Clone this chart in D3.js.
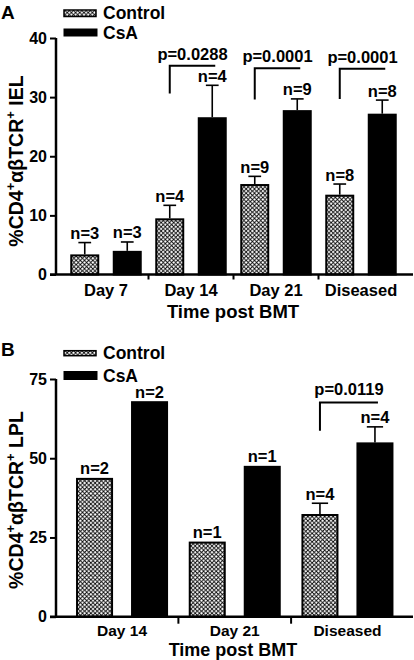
<!DOCTYPE html>
<html><head><meta charset="utf-8">
<script src="https://cdn.jsdelivr.net/npm/d3@7"></script>
<style>
html,body{margin:0;padding:0;background:#fff;}
svg{display:block;}
text{font-family:"Liberation Sans",Arial,sans-serif;font-weight:bold;fill:#000;}
</style></head>
<body>
<svg id="chart" width="414" height="660"></svg>
<script>
// ---------- Data ----------
const groups = ["Control", "CsA"];

const catsA = ["Day 7", "Day 14", "Day 21", "Diseased"];
const ctrlA = [3.4, 9.5, 15.3, 13.5];
const ctrlErrA = [2.0, 2.2, 1.3, 1.8];
const csaA = [4.0, 26.6, 27.8, 27.2];
const csaErrA = [1.5, 5.4, 1.9, 2.3];
const nCtrlA = [3, 4, 9, 8];
const nCsaA = [3, 4, 9, 8];
const pA = [null, "p=0.0288", "p=0.0001", "p=0.0001"];
const bracketTopA = [null, 35.3, 34.9, 34.8];
const bracketBotA = [null, 30.6, 29.6, 29.7];
const ticksA = [0, 10, 20, 30, 40];

const catsB = ["Day 14", "Day 21", "Diseased"];
const ctrlB = [43.8, 23.7, 32.4];
const ctrlErrB = [0, 0, 3.4];
const csaB = [68.0, 47.6, 55.0];
const csaErrB = [0, 0, 4.9];
const nCtrlB = [2, 1, 4];
const nCsaB = [2, 1, 4];
const pB = [null, null, "p=0.0119"];
const bracketTopB = [null, null, 67.6];
const bracketBotB = [null, null, 58.7];
const ticksB = [0, 25, 50, 75];

// ---------- Setup ----------
const svg = d3.select("#chart");
const defs = svg.append("defs");
const pat = defs.append("pattern").attr("id", "hatch")
  .attr("patternUnits", "userSpaceOnUse").attr("width", 4.2).attr("height", 4.2);
pat.append("rect").attr("width", 4.2).attr("height", 4.2).attr("fill", "#fff");
pat.append("path").attr("d", "M-1,-1L5.2,5.2M5.2,-1L-1,5.2")
  .attr("stroke", "#000").attr("stroke-width", 0.85);

function panel(cfg) {
  const g = svg.append("g");
  const y = d3.scaleLinear().domain(cfg.domain).range(cfg.yRange);
  const x = d3.scaleBand().domain(cfg.cats).range(cfg.xRange).padding(0);
  const xs = d3.scaleBand().domain(groups).range([0, x.bandwidth()])
    .paddingInner(cfg.pi).paddingOuter(cfg.po);
  const data = cfg.cats.map((c, i) => ({
    cat: c, i,
    vals: [
      {grp: "Control", v: cfg.ctrl[i], e: cfg.ctrlErr[i], n: cfg.nCtrl[i]},
      {grp: "CsA", v: cfg.csa[i], e: cfg.csaErr[i], n: cfg.nCsa[i]}
    ]
  }));

  // bars
  const grp = g.selectAll("g.grp").data(data).join("g")
    .attr("transform", d => `translate(${x(d.cat)},0)`);
  const bar = grp.selectAll("g.bar").data(d => d.vals).join("g");
  // error bars
  bar.filter(d => d.e > 0).append("line")
    .attr("x1", d => xs(d.grp) + xs.bandwidth() / 2)
    .attr("x2", d => xs(d.grp) + xs.bandwidth() / 2)
    .attr("y1", d => y(d.v)).attr("y2", d => y(d.v + d.e))
    .attr("stroke", "#000").attr("stroke-width", 1.6);
  bar.filter(d => d.e > 0).append("line")
    .attr("x1", d => xs(d.grp) + xs.bandwidth() * 0.28)
    .attr("x2", d => xs(d.grp) + xs.bandwidth() * 0.72)
    .attr("y1", d => y(d.v + d.e)).attr("y2", d => y(d.v + d.e))
    .attr("stroke", "#000").attr("stroke-width", 1.6);
  bar.append("rect")
    .attr("x", d => xs(d.grp) + 1)
    .attr("width", xs.bandwidth() - 2)
    .attr("y", d => y(d.v) + 1)
    .attr("height", d => y(0) - y(d.v) - 1)
    .attr("fill", d => d.grp === "CsA" ? "#000" : "url(#hatch)")
    .attr("stroke", "#000").attr("stroke-width", 2);
  // n labels
  bar.append("text")
    .attr("x", d => xs(d.grp) + xs.bandwidth() / 2)
    .attr("y", d => y(d.v + d.e) - 3.5)
    .attr("text-anchor", "middle").attr("font-size", cfg.nSize)
    .text(d => "n=" + d.n);

  // brackets
  data.forEach(d => {
    if (!cfg.p[d.i]) return;
    const xc = x(d.cat) + xs("Control") + xs.bandwidth() / 2;
    const xk = x(d.cat) + xs("CsA") + xs.bandwidth() / 2 + 3;
    const yt = y(cfg.bTop[d.i]), yb = y(cfg.bBot[d.i]);
    g.append("path").attr("d", `M${xc},${yb}V${yt}H${xk}`)
      .attr("fill", "none").attr("stroke", "#000").attr("stroke-width", 2);
    g.append("text").attr("x", (xc + xk) / 2).attr("y", yt - cfg.pGap)
      .attr("text-anchor", "middle").attr("font-size", cfg.pSize)
      .text(cfg.p[d.i]);
  });

  // y axis
  const ya = g.append("g").attr("transform", `translate(${cfg.axisX},0)`)
    .call(d3.axisLeft(y).tickValues(cfg.ticks).tickSize(6).tickPadding(3).tickFormat(d3.format("d")));
  ya.select(".domain").attr("d", `M0,${y(cfg.domain[0])}V${y(cfg.domain[1])}`)
    .attr("stroke-width", 2.5);
  ya.selectAll(".tick line").attr("stroke-width", 2);
  ya.selectAll(".tick text").attr("font-size", 16).attr("font-family", null)
    .attr("dy", "0.33em");
  // x axis
  const y0 = y(0);
  g.append("line").attr("x1", cfg.axisX - 6).attr("x2", 413)
    .attr("y1", y0).attr("y2", y0).attr("stroke", "#000").attr("stroke-width", 2.5);
  cfg.cats.slice(1).forEach(c => {
    g.append("line").attr("x1", x(c)).attr("x2", x(c))
      .attr("y1", y0).attr("y2", y0 + cfg.xTick)
      .attr("stroke", "#000").attr("stroke-width", 2);
  });
  g.selectAll("text.xl").data(cfg.cats).join("text")
    .attr("x", c => x(c) + x.bandwidth() / 2).attr("y", cfg.xLabelY)
    .attr("text-anchor", "middle").attr("font-size", cfg.xLabelSize).text(c => c);
  g.append("text").attr("x", 233).attr("y", cfg.xTitleY)
    .attr("text-anchor", "middle").attr("font-size", cfg.xTitleSize).text("Time post BMT");

  // y title
  const yt = g.append("text")
    .attr("transform", `translate(23,${cfg.yTitleY}) rotate(-90)`)
    .attr("text-anchor", "middle").attr("font-size", 19.5);
  yt.append("tspan").text("%CD4");
  yt.append("tspan").attr("font-size", 13).attr("dy", -8).text("+");
  yt.append("tspan").attr("dy", 8).text("\u03B1\u03B2TCR");
  yt.append("tspan").attr("font-size", 13).attr("dy", -8).text("+");
  yt.append("tspan").attr("dy", 8).text(" " + cfg.ySuffix);

  // panel label
  g.append("text").attr("x", 1).attr("y", cfg.labelY).attr("font-size", 19).text(cfg.label);

  // legend
  g.append("rect").attr("x", 64).attr("y", cfg.leg1Y).attr("width", 32).attr("height", cfg.leg1H)
    .attr("fill", "url(#hatch)").attr("stroke", "#000").attr("stroke-width", 1.5);
  g.append("rect").attr("x", 63.5).attr("y", cfg.leg2Y).attr("width", 34).attr("height", cfg.leg2H)
    .attr("fill", "#000");
  g.append("text").attr("x", 103).attr("y", cfg.leg1Y + cfg.leg1H / 2 + 6)
    .attr("font-size", 17.5).text(groups[0]);
  g.append("text").attr("x", 103).attr("y", cfg.leg2Y + cfg.leg2H / 2 + 6)
    .attr("font-size", 17.5).text(groups[1]);
}

panel({
  label: "A", labelY: 18.5,
  cats: catsA, ctrl: ctrlA, ctrlErr: ctrlErrA, csa: csaA, csaErr: csaErrA,
  nCtrl: nCtrlA, nCsa: nCsaA, p: pA, bTop: bracketTopA, bBot: bracketBotA,
  domain: [0, 40], ticks: ticksA, yRange: [274.5, 38],
  xRange: [63.5, 403.5], pi: 0.318, po: 0.159, axisX: 56,
  xTick: 5, xLabelY: 296, xLabelSize: 16.5, xTitleY: 317.5, xTitleSize: 18.5,
  yTitleY: 161, ySuffix: "IEL",
  nSize: 16.5, pSize: 16.5, pGap: 6,
  leg1Y: 10, leg1H: 6.5, leg2Y: 28.5, leg2H: 8
});

panel({
  label: "B", labelY: 356,
  cats: catsB, ctrl: ctrlB, ctrlErr: ctrlErrB, csa: csaB, csaErr: csaErrB,
  nCtrl: nCtrlB, nCsa: nCsaB, p: pB, bTop: bracketTopB, bBot: bracketBotB,
  domain: [0, 75], ticks: ticksB, yRange: [616.7, 379],
  xRange: [65.7, 403.8], pi: 0.327, po: 0.188, axisX: 56,
  xTick: 7, xLabelY: 635.5, xLabelSize: 15.5, xTitleY: 656, xTitleSize: 18,
  yTitleY: 500, ySuffix: "LPL",
  nSize: 16.5, pSize: 16.5, pGap: 7,
  leg1Y: 350.7, leg1H: 5, leg2Y: 371, leg2H: 9
});
</script>
</body></html>
